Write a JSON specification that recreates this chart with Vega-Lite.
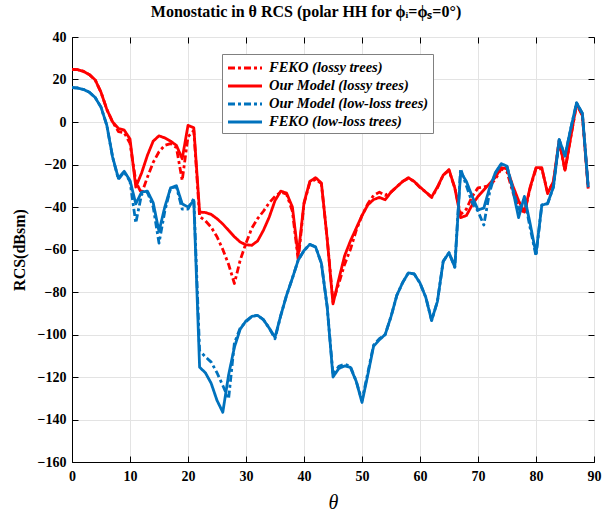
{
  "$schema": "https://vega.github.io/schema/vega-lite/v6.json",
  "width": 522,
  "height": 425,
  "autosize": "none",
  "padding": {"left": 72, "top": 37, "right": 21, "bottom": 50},
  "background": "white",
  "title": {
    "text": "Monostatic in θ RCS (polar HH for ϕᵢ=ϕₛ=0°)",
    "font": "Liberation Serif",
    "fontSize": 16,
    "fontWeight": "bold",
    "color": "black",
    "anchor": "middle",
    "dx": -27,
    "offset": 10
  },
  "config": {
    "view": {"stroke": "black", "strokeWidth": 1},
    "axis": {
      "labelFont": "Liberation Serif",
      "labelFontSize": 14,
      "labelFontWeight": "bold",
      "labelColor": "black",
      "titleFont": "Liberation Serif",
      "titleColor": "black",
      "domainColor": "black",
      "tickColor": "black",
      "gridColor": "#E3E3E3",
      "gridWidth": 1
    }
  },
  "data": {
    "values": [
      {"t":0,"FEKO (lossy trees)":24.8,"Our Model (lossy trees)":24.8,"Our Model (low-loss trees)":16.2,"FEKO (low-loss trees)":16.2},
      {"t":1,"FEKO (lossy trees)":24.6,"Our Model (lossy trees)":24.6,"Our Model (low-loss trees)":16,"FEKO (low-loss trees)":16},
      {"t":2,"FEKO (lossy trees)":23.8,"Our Model (lossy trees)":23.8,"Our Model (low-loss trees)":15.3,"FEKO (low-loss trees)":15.3},
      {"t":3,"FEKO (lossy trees)":22.3,"Our Model (lossy trees)":22.3,"Our Model (low-loss trees)":14,"FEKO (low-loss trees)":14},
      {"t":4,"FEKO (lossy trees)":19.8,"Our Model (lossy trees)":19.8,"Our Model (low-loss trees)":11.5,"FEKO (low-loss trees)":11.5},
      {"t":5,"FEKO (lossy trees)":14,"Our Model (lossy trees)":14,"Our Model (low-loss trees)":7,"FEKO (low-loss trees)":7},
      {"t":6,"FEKO (lossy trees)":6,"Our Model (lossy trees)":6,"Our Model (low-loss trees)":-1.5,"FEKO (low-loss trees)":-1.5},
      {"t":7,"FEKO (lossy trees)":0,"Our Model (lossy trees)":0,"Our Model (low-loss trees)":-16.5,"FEKO (low-loss trees)":-16.5},
      {"t":8,"FEKO (lossy trees)":-4.5,"Our Model (lossy trees)":-3,"Our Model (low-loss trees)":-27,"FEKO (low-loss trees)":-26.5},
      {"t":9,"FEKO (lossy trees)":-5,"Our Model (lossy trees)":-3.8,"Our Model (low-loss trees)":-23.5,"FEKO (low-loss trees)":-23.2},
      {"t":10,"FEKO (lossy trees)":-10,"Our Model (lossy trees)":-8,"Our Model (low-loss trees)":-28,"FEKO (low-loss trees)":-27.5},
      {"t":11,"FEKO (lossy trees)":-28,"Our Model (lossy trees)":-30.6,"Our Model (low-loss trees)":-47.5,"FEKO (low-loss trees)":-38.5},
      {"t":12,"FEKO (lossy trees)":-33.7,"Our Model (lossy trees)":-24,"Our Model (low-loss trees)":-34,"FEKO (low-loss trees)":-33},
      {"t":13,"FEKO (lossy trees)":-26,"Our Model (lossy trees)":-15.7,"Our Model (low-loss trees)":-33,"FEKO (low-loss trees)":-32.5},
      {"t":14,"FEKO (lossy trees)":-19,"Our Model (lossy trees)":-9,"Our Model (low-loss trees)":-40,"FEKO (low-loss trees)":-38},
      {"t":15,"FEKO (lossy trees)":-14,"Our Model (lossy trees)":-6.5,"Our Model (low-loss trees)":-57,"FEKO (low-loss trees)":-51.5},
      {"t":16,"FEKO (lossy trees)":-11,"Our Model (lossy trees)":-7.5,"Our Model (low-loss trees)":-42,"FEKO (low-loss trees)":-40},
      {"t":17,"FEKO (lossy trees)":-10.2,"Our Model (lossy trees)":-9,"Our Model (low-loss trees)":-31,"FEKO (low-loss trees)":-31},
      {"t":18,"FEKO (lossy trees)":-12,"Our Model (lossy trees)":-11,"Our Model (low-loss trees)":-30.5,"FEKO (low-loss trees)":-30},
      {"t":19,"FEKO (lossy trees)":-27.5,"Our Model (lossy trees)":-17.3,"Our Model (low-loss trees)":-41,"FEKO (low-loss trees)":-38.5},
      {"t":20,"FEKO (lossy trees)":-7,"Our Model (lossy trees)":-1.6,"Our Model (low-loss trees)":-41,"FEKO (low-loss trees)":-40},
      {"t":21,"FEKO (lossy trees)":-4,"Our Model (lossy trees)":-2.7,"Our Model (low-loss trees)":-36,"FEKO (low-loss trees)":-37},
      {"t":22,"FEKO (lossy trees)":-44.5,"Our Model (lossy trees)":-42.4,"Our Model (low-loss trees)":-107.6,"FEKO (low-loss trees)":-115.4},
      {"t":23,"FEKO (lossy trees)":-46.5,"Our Model (lossy trees)":-42.6,"Our Model (low-loss trees)":-110.5,"FEKO (low-loss trees)":-118},
      {"t":24,"FEKO (lossy trees)":-49.5,"Our Model (lossy trees)":-43.5,"Our Model (low-loss trees)":-113,"FEKO (low-loss trees)":-123},
      {"t":25,"FEKO (lossy trees)":-54,"Our Model (lossy trees)":-45.5,"Our Model (low-loss trees)":-118,"FEKO (low-loss trees)":-131},
      {"t":26,"FEKO (lossy trees)":-60,"Our Model (lossy trees)":-48,"Our Model (low-loss trees)":-124,"FEKO (low-loss trees)":-136.6},
      {"t":27,"FEKO (lossy trees)":-67,"Our Model (lossy trees)":-51,"Our Model (low-loss trees)":-130.3,"FEKO (low-loss trees)":-119},
      {"t":28,"FEKO (lossy trees)":-76,"Our Model (lossy trees)":-54,"Our Model (low-loss trees)":-104,"FEKO (low-loss trees)":-106},
      {"t":29,"FEKO (lossy trees)":-65,"Our Model (lossy trees)":-56.5,"Our Model (low-loss trees)":-97,"FEKO (low-loss trees)":-97.5},
      {"t":30,"FEKO (lossy trees)":-57,"Our Model (lossy trees)":-57.8,"Our Model (low-loss trees)":-94,"FEKO (low-loss trees)":-93.6},
      {"t":31,"FEKO (lossy trees)":-50,"Our Model (lossy trees)":-58,"Our Model (low-loss trees)":-91.5,"FEKO (low-loss trees)":-91.5},
      {"t":32,"FEKO (lossy trees)":-45.5,"Our Model (lossy trees)":-56,"Our Model (low-loss trees)":-91,"FEKO (low-loss trees)":-91},
      {"t":33,"FEKO (lossy trees)":-42,"Our Model (lossy trees)":-51,"Our Model (low-loss trees)":-93,"FEKO (low-loss trees)":-93},
      {"t":34,"FEKO (lossy trees)":-38,"Our Model (lossy trees)":-44.8,"Our Model (low-loss trees)":-97,"FEKO (low-loss trees)":-97},
      {"t":35,"FEKO (lossy trees)":-35,"Our Model (lossy trees)":-37,"Our Model (low-loss trees)":-102,"FEKO (low-loss trees)":-101.3},
      {"t":36,"FEKO (lossy trees)":-33,"Our Model (lossy trees)":-32.5,"Our Model (low-loss trees)":-91,"FEKO (low-loss trees)":-91},
      {"t":37,"FEKO (lossy trees)":-34,"Our Model (lossy trees)":-33.5,"Our Model (low-loss trees)":-81.5,"FEKO (low-loss trees)":-81.5},
      {"t":38,"FEKO (lossy trees)":-42,"Our Model (lossy trees)":-40,"Our Model (low-loss trees)":-73.5,"FEKO (low-loss trees)":-73.5},
      {"t":39,"FEKO (lossy trees)":-65,"Our Model (lossy trees)":-62.8,"Our Model (low-loss trees)":-65,"FEKO (low-loss trees)":-65},
      {"t":40,"FEKO (lossy trees)":-38.5,"Our Model (lossy trees)":-38,"Our Model (low-loss trees)":-60.5,"FEKO (low-loss trees)":-60.5},
      {"t":41,"FEKO (lossy trees)":-28.5,"Our Model (lossy trees)":-28,"Our Model (low-loss trees)":-57.6,"FEKO (low-loss trees)":-57.6},
      {"t":42,"FEKO (lossy trees)":-27,"Our Model (lossy trees)":-26.2,"Our Model (low-loss trees)":-58.8,"FEKO (low-loss trees)":-58.8},
      {"t":43,"FEKO (lossy trees)":-29,"Our Model (lossy trees)":-28.7,"Our Model (low-loss trees)":-66.5,"FEKO (low-loss trees)":-66.5},
      {"t":44,"FEKO (lossy trees)":-55,"Our Model (lossy trees)":-55,"Our Model (low-loss trees)":-87,"FEKO (low-loss trees)":-87},
      {"t":45,"FEKO (lossy trees)":-84.6,"Our Model (lossy trees)":-85.6,"Our Model (low-loss trees)":-119,"FEKO (low-loss trees)":-120},
      {"t":46,"FEKO (lossy trees)":-76,"Our Model (lossy trees)":-74,"Our Model (low-loss trees)":-115,"FEKO (low-loss trees)":-116},
      {"t":47,"FEKO (lossy trees)":-67,"Our Model (lossy trees)":-63,"Our Model (low-loss trees)":-114,"FEKO (low-loss trees)":-114.8},
      {"t":48,"FEKO (lossy trees)":-60,"Our Model (lossy trees)":-56,"Our Model (low-loss trees)":-115,"FEKO (low-loss trees)":-115.5},
      {"t":49,"FEKO (lossy trees)":-51,"Our Model (lossy trees)":-50,"Our Model (low-loss trees)":-122,"FEKO (low-loss trees)":-122},
      {"t":50,"FEKO (lossy trees)":-44,"Our Model (lossy trees)":-44,"Our Model (low-loss trees)":-131,"FEKO (low-loss trees)":-132},
      {"t":51,"FEKO (lossy trees)":-38.5,"Our Model (lossy trees)":-39,"Our Model (low-loss trees)":-118,"FEKO (low-loss trees)":-119},
      {"t":52,"FEKO (lossy trees)":-34.5,"Our Model (lossy trees)":-36.5,"Our Model (low-loss trees)":-105,"FEKO (low-loss trees)":-105.5},
      {"t":53,"FEKO (lossy trees)":-33,"Our Model (lossy trees)":-35.5,"Our Model (low-loss trees)":-102,"FEKO (low-loss trees)":-102.5},
      {"t":54,"FEKO (lossy trees)":-34.5,"Our Model (lossy trees)":-36.6,"Our Model (low-loss trees)":-100,"FEKO (low-loss trees)":-100},
      {"t":55,"FEKO (lossy trees)":-33,"Our Model (lossy trees)":-33,"Our Model (low-loss trees)":-91.6,"FEKO (low-loss trees)":-91.6},
      {"t":56,"FEKO (lossy trees)":-30.5,"Our Model (lossy trees)":-30.5,"Our Model (low-loss trees)":-81.6,"FEKO (low-loss trees)":-81.6},
      {"t":57,"FEKO (lossy trees)":-28,"Our Model (lossy trees)":-28,"Our Model (low-loss trees)":-75.6,"FEKO (low-loss trees)":-75.6},
      {"t":58,"FEKO (lossy trees)":-26.5,"Our Model (lossy trees)":-26.2,"Our Model (low-loss trees)":-71,"FEKO (low-loss trees)":-71},
      {"t":59,"FEKO (lossy trees)":-28,"Our Model (lossy trees)":-28,"Our Model (low-loss trees)":-71.5,"FEKO (low-loss trees)":-71.5},
      {"t":60,"FEKO (lossy trees)":-30.8,"Our Model (lossy trees)":-30.6,"Our Model (low-loss trees)":-75.8,"FEKO (low-loss trees)":-75.8},
      {"t":61,"FEKO (lossy trees)":-33,"Our Model (lossy trees)":-33,"Our Model (low-loss trees)":-82.5,"FEKO (low-loss trees)":-82.5},
      {"t":62,"FEKO (lossy trees)":-35.5,"Our Model (lossy trees)":-35.3,"Our Model (low-loss trees)":-93.4,"FEKO (low-loss trees)":-93.4},
      {"t":63,"FEKO (lossy trees)":-31,"Our Model (lossy trees)":-30.6,"Our Model (low-loss trees)":-84.5,"FEKO (low-loss trees)":-84.5},
      {"t":64,"FEKO (lossy trees)":-25,"Our Model (lossy trees)":-25,"Our Model (low-loss trees)":-65.6,"FEKO (low-loss trees)":-65.6},
      {"t":65,"FEKO (lossy trees)":-22.8,"Our Model (lossy trees)":-22.4,"Our Model (low-loss trees)":-61.5,"FEKO (low-loss trees)":-61.5},
      {"t":66,"FEKO (lossy trees)":-31,"Our Model (lossy trees)":-31,"Our Model (low-loss trees)":-68.3,"FEKO (low-loss trees)":-68.3},
      {"t":67,"FEKO (lossy trees)":-43.5,"Our Model (lossy trees)":-45,"Our Model (low-loss trees)":-22,"FEKO (low-loss trees)":-23.5},
      {"t":68,"FEKO (lossy trees)":-41,"Our Model (lossy trees)":-44,"Our Model (low-loss trees)":-30,"FEKO (low-loss trees)":-28},
      {"t":69,"FEKO (lossy trees)":-35,"Our Model (lossy trees)":-39,"Our Model (low-loss trees)":-38,"FEKO (low-loss trees)":-35},
      {"t":70,"FEKO (lossy trees)":-31,"Our Model (lossy trees)":-35,"Our Model (low-loss trees)":-42,"FEKO (low-loss trees)":-41.4},
      {"t":71,"FEKO (lossy trees)":-30.5,"Our Model (lossy trees)":-32,"Our Model (low-loss trees)":-48.5,"FEKO (low-loss trees)":-40.5},
      {"t":72,"FEKO (lossy trees)":-30,"Our Model (lossy trees)":-29,"Our Model (low-loss trees)":-33,"FEKO (low-loss trees)":-31},
      {"t":73,"FEKO (lossy trees)":-27,"Our Model (lossy trees)":-26,"Our Model (low-loss trees)":-24,"FEKO (low-loss trees)":-23.8},
      {"t":74,"FEKO (lossy trees)":-22,"Our Model (lossy trees)":-21.5,"Our Model (low-loss trees)":-20,"FEKO (low-loss trees)":-19.6},
      {"t":75,"FEKO (lossy trees)":-23.5,"Our Model (lossy trees)":-22,"Our Model (low-loss trees)":-21,"FEKO (low-loss trees)":-20.8},
      {"t":76,"FEKO (lossy trees)":-33,"Our Model (lossy trees)":-30,"Our Model (low-loss trees)":-31,"FEKO (low-loss trees)":-32},
      {"t":77,"FEKO (lossy trees)":-40,"Our Model (lossy trees)":-37,"Our Model (low-loss trees)":-42,"FEKO (low-loss trees)":-45},
      {"t":78,"FEKO (lossy trees)":-43,"Our Model (lossy trees)":-42.4,"Our Model (low-loss trees)":-36,"FEKO (low-loss trees)":-35},
      {"t":79,"FEKO (lossy trees)":-31,"Our Model (lossy trees)":-30.6,"Our Model (low-loss trees)":-50,"FEKO (low-loss trees)":-48},
      {"t":80,"FEKO (lossy trees)":-22,"Our Model (lossy trees)":-21.5,"Our Model (low-loss trees)":-63,"FEKO (low-loss trees)":-62},
      {"t":81,"FEKO (lossy trees)":-22,"Our Model (lossy trees)":-21.5,"Our Model (low-loss trees)":-39,"FEKO (low-loss trees)":-39.2},
      {"t":82,"FEKO (lossy trees)":-33,"Our Model (lossy trees)":-33.7,"Our Model (low-loss trees)":-38.5,"FEKO (low-loss trees)":-38.3},
      {"t":83,"FEKO (lossy trees)":-28.5,"Our Model (lossy trees)":-28,"Our Model (low-loss trees)":-30.6,"FEKO (low-loss trees)":-30.6},
      {"t":84,"FEKO (lossy trees)":-9,"Our Model (lossy trees)":-8.6,"Our Model (low-loss trees)":-8.3,"FEKO (low-loss trees)":-8.3},
      {"t":85,"FEKO (lossy trees)":-23,"Our Model (lossy trees)":-22.7,"Our Model (low-loss trees)":-16,"FEKO (low-loss trees)":-16},
      {"t":86,"FEKO (lossy trees)":-7,"Our Model (lossy trees)":-7,"Our Model (low-loss trees)":-3,"FEKO (low-loss trees)":-3},
      {"t":87,"FEKO (lossy trees)":8.2,"Our Model (lossy trees)":8.7,"Our Model (low-loss trees)":9,"FEKO (low-loss trees)":9},
      {"t":88,"FEKO (lossy trees)":3,"Our Model (lossy trees)":3.2,"Our Model (low-loss trees)":4,"FEKO (low-loss trees)":4},
      {"t":89,"FEKO (lossy trees)":-31,"Our Model (lossy trees)":-31.4,"Our Model (low-loss trees)":-30.6,"FEKO (low-loss trees)":-30.6}
    ]
  },
  "transform": [
    {"fold": ["FEKO (lossy trees)", "Our Model (lossy trees)", "Our Model (low-loss trees)", "FEKO (low-loss trees)"], "as": ["series", "rcs"]}
  ],
  "layer": [
    {
      "mark": {"type": "line", "strokeWidth": 2.8, "strokeJoin": "round", "strokeCap": "butt", "clip": true},
      "encoding": {
        "x": {
          "field": "t", "type": "quantitative",
          "scale": {"domain": [0, 90], "nice": false},
          "axis": {"values": [0,10,20,30,40,50,60,70,80,90], "title": "θ", "titleFontSize": 20, "titleFontStyle": "italic", "titleFontWeight": "normal", "titlePadding": 9, "tickSize": -6, "labelPadding": 13, "grid": true, "labelFlush": false}
        },
        "y": {
          "field": "rcs", "type": "quantitative",
          "scale": {"domain": [-160, 40], "nice": false},
          "axis": {"values": [-160,-140,-120,-100,-80,-60,-40,-20,0,20,40], "title": "RCS(dBsm)", "titleFontSize": 16, "titleFontWeight": "bold", "titlePadding": 10, "tickSize": -6, "labelPadding": 12, "grid": true}
        },
        "color": {
          "field": "series", "type": "nominal",
          "scale": {"domain": ["FEKO (lossy trees)", "Our Model (lossy trees)", "Our Model (low-loss trees)", "FEKO (low-loss trees)"], "range": ["#FF0000", "#FF0000", "#0072BD", "#0072BD"]},
          "legend": {
            "title": null, "orient": "none", "legendX": 150, "legendY": 17,
            "labelFont": "Liberation Serif", "labelFontSize": 14.5, "labelFontWeight": "bold", "labelFontStyle": "italic", "labelColor": "black",
            "symbolType": "M-2,0H2", "symbolSize": 289, "symbolStrokeWidth": 3, "symbolOffset": 9, "labelOffset": 14,
            "strokeColor": "#808080", "fillColor": "white", "padding": 4, "rowPadding": 1, "labelLimit": 400
          }
        },
        "strokeDash": {
          "field": "series", "type": "nominal",
          "scale": {"domain": ["FEKO (lossy trees)", "Our Model (lossy trees)", "Our Model (low-loss trees)", "FEKO (low-loss trees)"], "range": [[7, 3, 3, 3], [1, 0], [7, 3, 3, 3], [1, 0]]},
          "legend": {"title": null, "orient": "none", "legendX": 150, "legendY": 17}
        }
      }
    },
    {
      "mark": {"type": "point", "opacity": 0},
      "encoding": {
        "x": {"field": "t", "type": "quantitative", "scale": {"domain": [0, 90], "nice": false},
          "axis": {"orient": "top", "values": [0,10,20,30,40,50,60,70,80,90], "labels": false, "title": null, "tickSize": -6, "grid": false, "domain": false}},
        "y": {"field": "rcs", "type": "quantitative", "scale": {"domain": [-160, 40], "nice": false},
          "axis": {"orient": "right", "values": [-160,-140,-120,-100,-80,-60,-40,-20,0,20,40], "labels": false, "title": null, "tickSize": -6, "grid": false, "domain": false}}
      }
    }
  ],
  "resolve": {"axis": {"x": "independent", "y": "independent"}}
}
